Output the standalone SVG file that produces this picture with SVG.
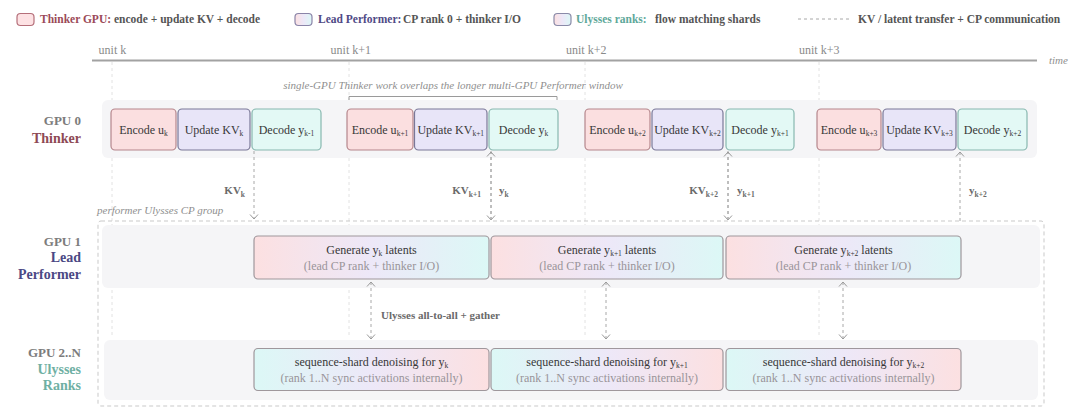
<svg xmlns="http://www.w3.org/2000/svg" width="1080" height="413" viewBox="0 0 1080 413">
<defs>
<linearGradient id="gPerf" x1="0" y1="0" x2="1" y2="0">
<stop offset="0" stop-color="#fce0e1"/><stop offset="0.5" stop-color="#ede8f8"/><stop offset="1" stop-color="#dcf8f6"/>
</linearGradient>
<linearGradient id="gUly" x1="0" y1="0" x2="1" y2="0">
<stop offset="0" stop-color="#dcf8f6"/><stop offset="0.5" stop-color="#ede8f8"/><stop offset="1" stop-color="#fce0e1"/>
</linearGradient>
<marker id="chev" viewBox="-6 -5 7 10" refX="0" refY="0" markerWidth="7" markerHeight="10" markerUnits="userSpaceOnUse" orient="auto-start-reverse">
<path d="M-4.5,-4 L0,0 L-4.5,4" fill="none" stroke="#9a9a9a" stroke-width="1"/>
</marker>
<style>
.lg{font-family:"Liberation Serif",serif;font-size:11.5px;font-weight:bold}
.unit{font-family:"Liberation Serif",serif;font-size:12px;fill:#8a8a8a}
.it{font-family:"Liberation Serif",serif;font-style:italic;font-size:11px;fill:#8f8f8f}
.gpu{font-family:"Liberation Serif",serif;font-size:13px;font-weight:bold;fill:#7c7c7c;text-anchor:end}
.role{font-family:"Liberation Serif",serif;font-size:14px;font-weight:bold;text-anchor:end}
.bx{font-family:"Liberation Serif",serif;font-size:12px;fill:#383838;text-anchor:middle}
.sub{font-family:"Liberation Serif",serif;font-size:12px;fill:#999499;text-anchor:middle}
.cl{font-family:"Liberation Serif",serif;font-size:11px;font-weight:bold;fill:#6a6a6a}
.s{font-size:7.5px}
.band{fill:#f5f5f7}
.enc{fill:#fbdfe0;stroke:#b5868c;stroke-width:1.2}
.upd{fill:#e8e5f8;stroke:#7a7898;stroke-width:1.2}
.dec{fill:#e3f9f5;stroke:#88b8b0;stroke-width:1.2}
.pf{fill:url(#gPerf);stroke:#9f979c;stroke-width:1.2}
.ul{fill:url(#gUly);stroke:#9f979c;stroke-width:1.2}
.dash{fill:none;stroke:#a8a8a8;stroke-width:1;stroke-dasharray:3 3}
.grid{fill:none;stroke:#e2e2e2;stroke-width:1;stroke-dasharray:3 3}
</style>
</defs>
<rect width="1080" height="413" fill="#ffffff"/>

<g id="legend">
<rect x="17" y="13.5" width="17" height="12" rx="3.5" fill="#fde2e4" stroke="#b56f7a" stroke-width="1.2"/>
<text class="lg" x="40" y="23"><tspan fill="#9b4a57">Thinker GPU:</tspan><tspan x="114" fill="#555">encode + update KV + decode</tspan></text>
<rect x="295" y="13.5" width="17" height="12" rx="3.5" fill="url(#gPerf)" stroke="#8a84a8" stroke-width="1.2"/>
<text class="lg" x="318" y="23"><tspan fill="#4f4a86">Lead Performer:</tspan><tspan x="403" fill="#555">CP rank 0 + thinker I/O</tspan></text>
<rect x="554" y="13.5" width="17" height="12" rx="3.5" fill="url(#gPerf)" stroke="#8a8aa8" stroke-width="1.2"/>
<text class="lg" x="576" y="23"><tspan fill="#5ea89a">Ulysses ranks:</tspan><tspan x="655" fill="#555">flow matching shards</tspan></text>
<line x1="798" y1="19" x2="850" y2="19" class="dash" stroke="#b8b8b8"/>
<text class="lg" x="858" y="23" fill="#555">KV / latent transfer + CP communication</text>
</g>

<g id="timeline">
<text class="unit" x="98.6" y="54">unit k</text>
<text class="unit" x="330.6" y="54">unit k+1</text>
<text class="unit" x="566" y="54">unit k+2</text>
<text class="unit" x="799" y="54">unit k+3</text>
<line x1="92" y1="60.5" x2="1037" y2="60.5" stroke="#a2a2a2" stroke-width="2"/>
<text class="it" x="1049" y="64">time</text>
<path class="grid" d="M112,62 V338 M349,62 V338 M585,62 V338 M819,62 V338"/>
</g>

<g id="annotation">
<text class="it" x="453" y="88.5" text-anchor="middle">single-GPU Thinker work overlaps the longer multi-GPU Performer window</text>
<path d="M349,103 V96.5 H557 V103" fill="none" stroke="#9a9a9a" stroke-width="1"/>
</g>

<g id="bands">
<rect class="band" x="102" y="100" width="935" height="58" rx="6"/>
<rect x="98" y="221" width="946" height="185" rx="3" fill="none" stroke="#c9c9c9" stroke-width="1" stroke-dasharray="4 3"/>
<text class="it" x="97" y="213.5">performer Ulysses CP group</text>
<rect class="band" x="102" y="225" width="938" height="63" rx="6"/>
<rect class="band" x="104" y="340" width="934" height="60" rx="6"/>
</g>

<g id="labels">
<text class="gpu" x="81" y="125">GPU 0</text>
<text class="role" x="81" y="142.5" fill="#8e4a55">Thinker</text>
<text class="gpu" x="81" y="245.5">GPU 1</text>
<text class="role" x="81" y="262" fill="#4b4884">Lead</text>
<text class="role" x="81" y="279" fill="#4b4884">Performer</text>
<text class="gpu" x="81" y="356.5">GPU 2..N</text>
<text class="role" x="81" y="374" fill="#6fb0a3">Ulysses</text>
<text class="role" x="81" y="390" fill="#6fb0a3">Ranks</text>
</g>

<g id="connectors">
<path class="dash" d="M254,151 V219" marker-end="url(#chev)"/>
<path class="dash" d="M491,151 V220" marker-end="url(#chev)"/>
<path class="dash" d="M491,220 V152" marker-end="url(#chev)"/>
<path class="dash" d="M728,151 V220" marker-end="url(#chev)"/>
<path class="dash" d="M728,220 V152" marker-end="url(#chev)"/>
<path class="dash" d="M960,221 V152" marker-end="url(#chev)"/>
<path class="dash" d="M371,282 V339" marker-start="url(#chev)" marker-end="url(#chev)"/>
<path class="dash" d="M606,282 V339" marker-start="url(#chev)" marker-end="url(#chev)"/>
<path class="dash" d="M843,282 V339" marker-start="url(#chev)" marker-end="url(#chev)"/>
<text class="cl" x="245" y="194" text-anchor="end">KV<tspan class="s" dy="2.5">k</tspan></text>
<text class="cl" x="481" y="194" text-anchor="end">KV<tspan class="s" dy="2.5">k+1</tspan></text>
<text class="cl" x="499" y="194">y<tspan class="s" dy="2.5">k</tspan></text>
<text class="cl" x="718" y="194" text-anchor="end">KV<tspan class="s" dy="2.5">k+2</tspan></text>
<text class="cl" x="737" y="194">y<tspan class="s" dy="2.5">k+1</tspan></text>
<text class="cl" x="969" y="194">y<tspan class="s" dy="2.5">k+2</tspan></text>
<text class="cl" x="381" y="319">Ulysses all-to-all + gather</text>
</g>

<g id="thinker-k">
<rect class="enc" x="111" y="109" width="65" height="41" rx="4"/>
<text class="bx" x="143.5" y="133.5">Encode u<tspan class="s" dy="2">k</tspan></text>
<rect class="upd" x="178" y="109" width="72" height="41" rx="4"/>
<text class="bx" x="214" y="133.5">Update KV<tspan class="s" dy="2">k</tspan></text>
<rect class="dec" x="252" y="109" width="69" height="41" rx="4"/>
<text class="bx" x="286.5" y="133.5">Decode y<tspan class="s" dy="2">k-1</tspan></text>
</g>
<g id="thinker-k1">
<rect class="enc" x="347" y="109" width="66" height="41" rx="4"/>
<text class="bx" x="380" y="133.5">Encode u<tspan class="s" dy="2">k+1</tspan></text>
<rect class="upd" x="414.5" y="109" width="72.5" height="41" rx="4"/>
<text class="bx" x="450.75" y="133.5">Update KV<tspan class="s" dy="2">k+1</tspan></text>
<rect class="dec" x="489" y="109" width="69" height="41" rx="4"/>
<text class="bx" x="523.5" y="133.5">Decode y<tspan class="s" dy="2">k</tspan></text>
</g>
<g id="thinker-k2">
<rect class="enc" x="585" y="109" width="65" height="41" rx="4"/>
<text class="bx" x="617.5" y="133.5">Encode u<tspan class="s" dy="2">k+2</tspan></text>
<rect class="upd" x="652" y="109" width="71" height="41" rx="4"/>
<text class="bx" x="687.5" y="133.5">Update KV<tspan class="s" dy="2">k+2</tspan></text>
<rect class="dec" x="726" y="109" width="68" height="41" rx="4"/>
<text class="bx" x="760" y="133.5">Decode y<tspan class="s" dy="2">k+1</tspan></text>
</g>
<g id="thinker-k3">
<rect class="enc" x="817" y="109" width="64" height="41" rx="4"/>
<text class="bx" x="849" y="133.5">Encode u<tspan class="s" dy="2">k+3</tspan></text>
<rect class="upd" x="883" y="109" width="73" height="41" rx="4"/>
<text class="bx" x="919.5" y="133.5">Update KV<tspan class="s" dy="2">k+3</tspan></text>
<rect class="dec" x="958" y="109" width="69" height="41" rx="4"/>
<text class="bx" x="992.5" y="133.5">Decode y<tspan class="s" dy="2">k+2</tspan></text>
</g>

<g id="performer-k">
<rect class="pf" x="254" y="236" width="235" height="43" rx="4"/>
<text class="bx" x="371.5" y="254">Generate y<tspan class="s" dy="2">k</tspan><tspan dy="-2"> latents</tspan></text>
<text class="sub" x="371.5" y="270">(lead CP rank + thinker I/O)</text>
</g>
<g id="performer-k1">
<rect class="pf" x="491" y="236" width="232" height="43" rx="4"/>
<text class="bx" x="607" y="254">Generate y<tspan class="s" dy="2">k+1</tspan><tspan dy="-2"> latents</tspan></text>
<text class="sub" x="607" y="270">(lead CP rank + thinker I/O)</text>
</g>
<g id="performer-k2">
<rect class="pf" x="726" y="236" width="235" height="43" rx="4"/>
<text class="bx" x="843.5" y="254">Generate y<tspan class="s" dy="2">k+2</tspan><tspan dy="-2"> latents</tspan></text>
<text class="sub" x="843.5" y="270">(lead CP rank + thinker I/O)</text>
</g>

<g id="ulysses-k">
<rect class="ul" x="254" y="348.5" width="235" height="42" rx="4"/>
<text class="bx" x="371.5" y="366">sequence-shard denoising for y<tspan class="s" dy="2">k</tspan></text>
<text class="sub" x="371.5" y="382">(rank 1..N sync activations internally)</text>
</g>
<g id="ulysses-k1">
<rect class="ul" x="491" y="348.5" width="232" height="42" rx="4"/>
<text class="bx" x="607" y="366">sequence-shard denoising for y<tspan class="s" dy="2">k+1</tspan></text>
<text class="sub" x="607" y="382">(rank 1..N sync activations internally)</text>
</g>
<g id="ulysses-k2">
<rect class="ul" x="726" y="348.5" width="235" height="42" rx="4"/>
<text class="bx" x="843.5" y="366">sequence-shard denoising for y<tspan class="s" dy="2">k+2</tspan></text>
<text class="sub" x="843.5" y="382">(rank 1..N sync activations internally)</text>
</g>
</svg>
